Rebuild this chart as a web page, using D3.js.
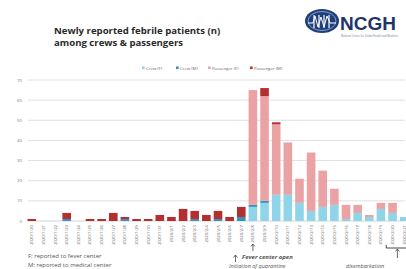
<!DOCTYPE html>
<html>
<head>
<meta charset="utf-8">
<script src="https://cdn.jsdelivr.net/npm/d3@7"></script>
<style>
  body { margin: 0; background: #fff; }
  svg { display: block; font-family: "Open Sans", sans-serif; }
</style>
</head>
<body>
<script>
// dates 2020/1/20 .. 2020/2/21
var dates = ["2020/1/20","2020/1/21","2020/1/22","2020/1/23","2020/1/24","2020/1/25","2020/1/26",
  "2020/1/27","2020/1/28","2020/1/29","2020/1/30","2020/1/31","2020/2/1","2020/2/2","2020/2/3",
  "2020/2/4","2020/2/5","2020/2/6","2020/2/7","2020/2/8","2020/2/9","2020/2/10","2020/2/11",
  "2020/2/12","2020/2/13","2020/2/14","2020/2/15","2020/2/16","2020/2/17","2020/2/18","2020/2/19",
  "2020/2/20","2020/2/21"];
var crewF      = [0,0,0,0,0,0,0,0,0,0,0,0,0,0,0,0,0,0,0, 7, 9,13,13, 9, 5, 7, 8,1,4,2,6,4,2];
var crewM      = [0,0,0,1,0,0,0,0,1,0,0,0,0,0,1,0,1,0,2, 1, 1, 0, 0, 0, 0, 0, 0,0,0,0,0,0,0];
var passengerF = [0,0,0,0,0,0,0,0,0,0,0,0,0,0,0,0,0,0,0,57,52,35,26,12,29,18, 8,7,4,1,3,5,0];
var passengerM = [1,0,0,3,0,1,1,4,1,1,1,3,2,6,4,3,4,2,5, 0, 4, 1, 0, 0, 0, 0, 0,0,0,0,0,0,0];
var seriesNames = ["Crew (F)", "Crew (M)", "Passenger (F)", "Passenger (M)"];
var colors = ["#8fd5ea", "#3b8fc4", "#eba2a4", "#b3302f"];
var yTicks = [0,10,20,30,40,50,60,70];

var W = 406, H = 269;
var svg = d3.select("body").append("svg").attr("width", W).attr("height", H);

var rows = dates.map(function(d, i){
  return {date: d, "Crew (F)": crewF[i], "Crew (M)": crewM[i],
          "Passenger (F)": passengerF[i], "Passenger (M)": passengerM[i]};
});
var stack = d3.stack().keys(seriesNames)(rows);

var x = d3.scaleBand().domain(dates).range([27.5, 408.5]).paddingInner(0.26).paddingOuter(0);
var y = d3.scaleLinear().domain([0, 70]).range([221, 80]);

// title
var title = svg.append("text").attr("x", 54).attr("y", 34)
  .attr("font-size", 9.6).attr("font-weight", "bold").attr("fill", "#2a2a2a");
title.append("tspan").attr("x", 54).text("Newly reported febrile patients (n)");
title.append("tspan").attr("x", 54).attr("dy", 11.5).text("among crews & passengers");

// logo
var logo = svg.append("g").attr("transform", "translate(322,21)");
logo.append("ellipse").attr("rx", 17).attr("ry", 12).attr("fill", "#1f3f7a");
logo.append("ellipse").attr("rx", 14).attr("ry", 9.5).attr("fill", "none").attr("stroke", "#9fb6dd").attr("stroke-width", 0.8);
[-8, -3, 2, 7].forEach(function(dx){
  logo.append("line").attr("x1", dx).attr("x2", dx).attr("y1", -6).attr("y2", 7)
    .attr("stroke", "#e8eef8").attr("stroke-width", 1.3);
});
logo.append("path").attr("d", "M-14,2 L-9,2 L-7,-5 L-4,6 L-1,-4 L2,6 L5,-5 L8,2 L14,2")
  .attr("fill", "none").attr("stroke", "#ffffff").attr("stroke-width", 1);
svg.append("text").attr("x", 340).attr("y", 30).attr("font-size", 19).attr("font-weight", "bold")
  .attr("fill", "#1f3568").attr("font-family", "Liberation Sans, Arial").text("NCGH");
svg.append("text").attr("x", 341).attr("y", 37).attr("font-size", 2.6).attr("fill", "#6a7a99")
  .text("National Center for Global Health and Medicine");

// legend
var legendX = [142, 176, 208, 250];
seriesNames.forEach(function(s, i){
  var g = svg.append("g").attr("transform", "translate(" + legendX[i] + ",69)");
  g.append("rect").attr("x", 0).attr("y", -2.5).attr("width", 2.6).attr("height", 2.6).attr("fill", colors[i]);
  g.append("text").attr("x", 4).attr("y", 0.8).attr("font-size", 4.3).attr("fill", "#666").text(s);
});

// grid + y axis
svg.append("g").selectAll("line").data(yTicks).enter().append("line")
  .attr("x1", 28).attr("x2", 405)
  .attr("y1", function(d){ return y(d); }).attr("y2", function(d){ return y(d); })
  .attr("stroke", function(d){ return d === 0 ? "#cfcfcf" : "#dcdcdc"; }).attr("stroke-width", 0.9);
svg.append("g").selectAll("text").data(yTicks).enter().append("text")
  .attr("x", 22).attr("y", function(d){ return y(d) + 1.5; })
  .attr("text-anchor", "end").attr("font-size", 4.3).attr("fill", "#777")
  .text(function(d){ return d; });

// bars
svg.append("g").selectAll("g").data(stack).enter().append("g")
  .attr("fill", function(d, i){ return colors[i]; })
  .selectAll("rect").data(function(d){ return d; }).enter().append("rect")
  .attr("x", function(d){ return x(d.data.date); })
  .attr("width", x.bandwidth())
  .attr("y", function(d){ return y(d[1]); })
  .attr("height", function(d){ return y(d[0]) - y(d[1]); });

// x labels
svg.append("g").selectAll("text").data(dates).enter().append("text")
  .attr("transform", function(d){ return "translate(" + (x(d) + x.bandwidth() / 2 + 1.5) + ",225) rotate(-90)"; })
  .attr("text-anchor", "end").attr("font-size", 4.2).attr("fill", "#666")
  .text(function(d){ return d; });

// notes
svg.append("text").attr("x", 28).attr("y", 258).attr("font-size", 6).attr("fill", "#555")
  .text("F: reported to fever center");
svg.append("text").attr("x", 28).attr("y", 267).attr("font-size", 6).attr("fill", "#555")
  .text("M: reported to medical center");

// annotations
function arrow(cx, y1, y2){
  svg.append("line").attr("x1", cx).attr("x2", cx).attr("y1", y1).attr("y2", y2)
    .attr("stroke", "#444").attr("stroke-width", 0.8);
  svg.append("path").attr("d", "M" + (cx - 2) + "," + (y1 + 2.5) + " L" + cx + "," + y1 + " L" + (cx + 2) + "," + (y1 + 2.5))
    .attr("fill", "none").attr("stroke", "#444").attr("stroke-width", 0.8);
}
var openX = x(dates[19]) + x.bandwidth() / 2;
arrow(openX, 244, 251);
svg.append("text").attr("x", 242).attr("y", 259).attr("font-size", 6).attr("font-style", "italic")
  .attr("font-weight", "bold").attr("fill", "#555").text("Fever center open");
var quarX = (x(dates[17]) + x(dates[18]) + x.bandwidth()) / 2;
arrow(quarX, 255, 262);
svg.append("text").attr("x", 229).attr("y", 268).attr("font-size", 5.5).attr("font-style", "italic")
  .attr("fill", "#555").text("Initiation of quarantine");

// disembarkation bracket
var bx1 = x(dates[31]) - 2, bx2 = x(dates[32]) + x.bandwidth();
svg.append("path").attr("d", "M" + bx1 + ",245 L" + bx1 + ",248 L" + bx2 + ",248 L" + bx2 + ",245")
  .attr("fill", "none").attr("stroke", "#333").attr("stroke-width", 0.9);
arrow((bx1 + bx2) / 2, 249, 258);
svg.append("text").attr("x", 346).attr("y", 268).attr("font-size", 5.5).attr("font-style", "italic")
  .attr("fill", "#555").text("disembarkation");
</script>
</body>
</html>
